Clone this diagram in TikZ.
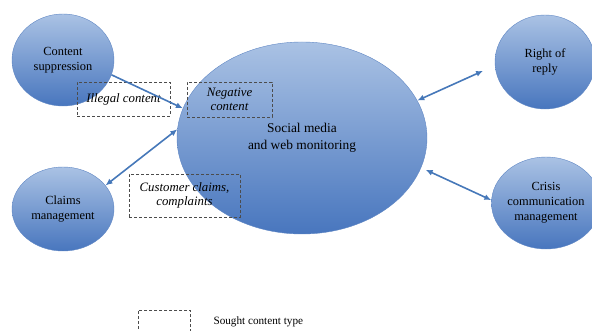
\documentclass[tikz,border=0pt]{standalone}
\usepackage{fontspec}
\setmainfont{Liberation Serif}
\usetikzlibrary{shapes.geometric,arrows.meta}
\definecolor{topblue}{RGB}{170,194,228}
\definecolor{botblue}{RGB}{72,118,190}
\definecolor{rimblue}{RGB}{96,135,196}
\definecolor{arrblue}{RGB}{70,120,185}
\tikzset{
  blob/.style={ellipse, inner sep=0pt, draw=rimblue, line width=0.4pt,
    top color=topblue, bottom color=botblue, align=center, font=\fontsize{12.4}{15}\selectfont},
  sought/.style={draw=black!70, densely dashed, line width=0.5pt, align=center,
    font=\fontsize{12.8}{14.5}\selectfont\itshape},
  link/.style={draw=arrblue, line width=1.6pt, -{Latex[length=7pt,width=6pt]}},
  twolink/.style={draw=arrblue, line width=1.6pt, {Latex[length=7pt,width=6pt]}-{Latex[length=7pt,width=6pt]}}
}
\begin{document}
\begin{tikzpicture}[x=1pt,y=-1pt]
        \useasboundingbox (0,0) rectangle (592,331);
        \clip (0,0) rectangle (592,331);
        % the five circles
        \node[blob, minimum width=102pt, minimum height=92pt] (supp) at (63,60) {Content\\suppression};
        \node[blob, minimum width=102pt, minimum height=84pt] (claims) at (63,209) {Claims\\management};
        \node[blob, minimum width=250pt, minimum height=192pt, font=\fontsize{13.4}{17}\selectfont] (soc) at (302,138) {Social media\\and web monitoring};
        \node[blob, minimum width=100pt, minimum height=94pt] (reply) at (545,62) {Right of\\reply};
        \node[blob, minimum width=106pt, minimum height=92pt] (crisis) at (546,203) {Crisis\\communication\\management};
        % content types
        \node[sought, minimum width=93pt, minimum height=34pt] (illegal) at (123.5,99) {Illegal content};
        \node[sought, minimum width=85pt, minimum height=35pt] (negative) at (229.5,99.5) {Negative\\content};
        \node[sought, minimum width=111pt, minimum height=43pt] (customer) at (184.5,195.5) {Customer claims,\\complaints};
        % arrows
        \draw[link] (supp.-17) -- (soc.166);
        \draw[twolink] (claims.29) -- (soc.176);
        \draw[twolink, shorten >=13pt] (soc.18) -- (reply.184);
        \draw[twolink, shorten <=5pt] (soc.-14) -- (crisis.177);
        % legend
        \node[sought, minimum width=52pt, minimum height=30pt] (key) at (164,325) {};
        \node[anchor=west, font=\fontsize{11.2}{13}\selectfont] (keytext) at (210,322) {Sought content type};
\end{tikzpicture}
\end{document}
